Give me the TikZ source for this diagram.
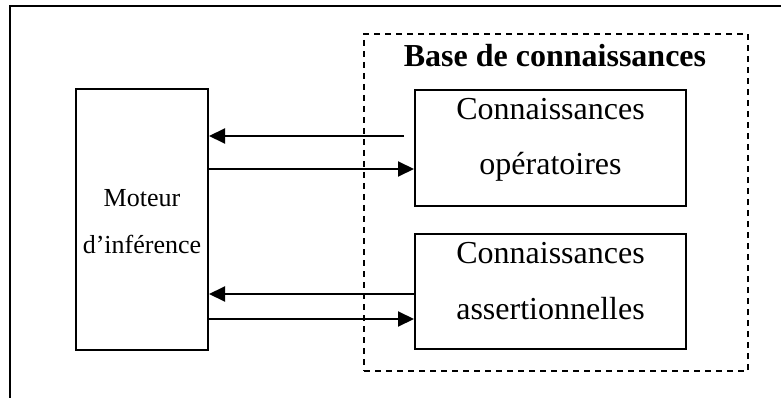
\documentclass[tikz,border=0pt]{standalone}
\usepackage{fontspec}
\setmainfont{Liberation Serif}
\usetikzlibrary{arrows.meta}

\begin{document}
\begin{tikzpicture}[x=1pt, y=-1pt,
        box/.style={rectangle, draw, line width=2pt, inner sep=0pt},
        txt/.style={anchor=base, inner sep=0pt, font=\fontsize{32}{38}\selectfont},
        flow/.style={draw, line width=2pt, -{Triangle[length=16pt, width=15pt]}}
    ]
        \useasboundingbox (0,0) rectangle (781,398);

        % Frame (top and left only)
        \draw [line width=2pt] (781,6) -- (10,6) -- (10,398);

        % Nodes
        \node [box, minimum width=132pt, minimum height=261pt] (moteur) at (142, 219.5) {};
        \node [draw, dashed, dash pattern=on 6pt off 5pt, line width=2pt, minimum width=384pt, minimum height=337pt, inner sep=0pt] (base) at (556, 202.5) {};
        \node [box, minimum width=271pt, minimum height=116pt] (oper) at (550.5, 148) {};
        \node [box, minimum width=271pt, minimum height=115pt] (assert) at (550.5, 291.5) {};

        % Texts
        \node [txt, font=\fontsize{32}{38}\selectfont\bfseries] (basetxt) at (555, 67) {Base de connaissances};
        \node [txt] (oper1) at (550.5, 120) {Connaissances};
        \node [txt] (oper2) at (550.5, 175) {opératoires};
        \node [txt] (assert1) at (550.5, 263) {Connaissances};
        \node [txt] (assert2) at (550.5, 319) {assertionnelles};
        \node [txt, font=\fontsize{26}{31}\selectfont] (moteur1) at (142, 206) {Moteur};
        \node [txt, font=\fontsize{26}{31}\selectfont] (moteur2) at (142, 253) {d’inférence};

        % Connections
        \coordinate (opout) at (404, 136);
        \path [flow] (opout) -- (opout -| moteur.east);
        \path [flow] (moteur.east |- 0,169) -- (oper.west |- 0,169);
        \path [flow] (assert.west |- 0,294) -- (moteur.east |- 0,294);
        \path [flow] (moteur.east |- 0,319) -- (assert.west |- 0,319);

    \end{tikzpicture}
\end{document}
